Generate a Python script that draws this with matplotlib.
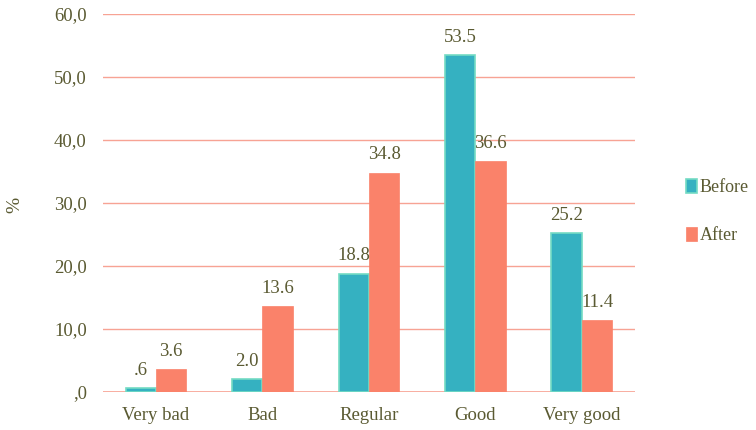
import numpy as np
import matplotlib.pyplot as plt

categories = ['Very bad', 'Bad', 'Regular', 'Good', 'Very good']
before = [0.6, 2.0, 18.8, 53.5, 25.2]
after = [3.6, 13.6, 34.8, 36.6, 11.4]
yticks = [0, 10, 20, 30, 40, 50, 60]
ytick_labels = [',0', '10,0', '20,0', '30,0', '40,0', '50,0', '60,0']

text_color = '#5a5a32'
grid_color = '#f7a394'
teal = '#35b1c1'
teal_edge = '#74dbc4'
salmon = '#fa826a'

plt.rcParams['font.family'] = ['Liberation Serif', 'DejaVu Serif']
fs = 13.5

fig = plt.figure(figsize=(7.56, 4.30), dpi=100)
ax = fig.add_axes([0.136, 0.0884, 0.704, 0.879])

x = np.arange(len(categories))
w = 0.285
b1 = ax.bar(x - w / 2, before, w, color=teal, edgecolor=teal_edge, linewidth=1.2,
            label='Before', zorder=3)
b2 = ax.bar(x + w / 2, after, w, color=salmon, edgecolor=salmon, linewidth=0.5,
            label='After', zorder=3)

def fmt(v):
    s = f'{v:.1f}'
    return s[1:] if s.startswith('0') else s

for bars, vals in ((b1, before), (b2, after)):
    for rect, v in zip(bars, vals):
        ax.text(rect.get_x() + rect.get_width() / 2, v + 1.5, fmt(v),
                ha='center', va='bottom', fontsize=fs, color=text_color, zorder=4)

ax.set_xlim(-0.5, len(categories) - 0.5)
ax.set_ylim(0, 60)
ax.set_yticks(yticks)
ax.set_yticklabels(ytick_labels)
ax.set_xticks(x)
ax.set_xticklabels(categories)
ax.tick_params(length=0, labelsize=fs, labelcolor=text_color)
ax.tick_params(axis='y', pad=11.5)
ax.tick_params(axis='x', pad=11)
ax.yaxis.grid(True, color=grid_color, linewidth=1.0, zorder=0)
for s in ax.spines.values():
    s.set_visible(False)
ax.axhline(0, color=grid_color, linewidth=1.2, zorder=2)

fig.text(15 / 756, 1 - 205 / 430, '%', rotation=90, ha='center', va='center',
         fontsize=14, color=text_color)

leg = fig.legend(handles=[b1, b2], loc='center left', bbox_to_anchor=(0.908, 0.508),
                 frameon=False, fontsize=13, handlelength=0.6, handleheight=0.85,
                 handletextpad=0.15, labelspacing=1.7, borderpad=0, borderaxespad=0)
for t in leg.get_texts():
    t.set_color(text_color)

fig.savefig('out.png', dpi=100)
